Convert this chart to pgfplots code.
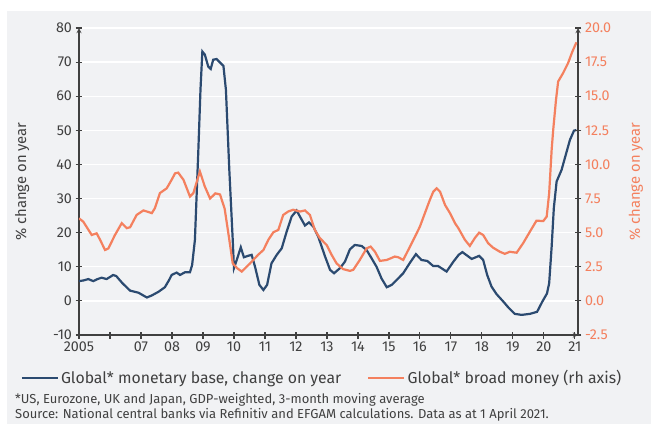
\documentclass[border=0pt]{standalone}
\usepackage{fontspec}
\setmainfont{Fira Sans}
\usepackage{pgfplots}
\pgfplotsset{compat=1.18}
\definecolor{navy}{HTML}{2B4A70}
\definecolor{coral}{HTML}{F4805E}
\definecolor{panel}{HTML}{F1F2F4}
\definecolor{txt}{HTML}{404040}

\pgfplotstableread{
x y
2005.00 5.8
2005.15 6.0
2005.30 6.4
2005.46 5.8
2005.60 6.4
2005.73 6.8
2005.89 6.4
2006.00 7.0
2006.10 7.6
2006.20 7.3
2006.40 5.2
2006.65 3.0
2006.92 2.4
2007.19 1.0
2007.35 1.6
2007.57 2.7
2007.77 4.0
2007.90 6.0
2007.99 7.6
2008.15 8.3
2008.26 7.6
2008.42 8.4
2008.58 8.4
2008.65 10.5
2008.74 17.9
2008.85 44.0
2008.92 62.0
2008.98 73.1
2009.06 72.2
2009.17 68.7
2009.25 68.0
2009.33 70.7
2009.44 70.9
2009.57 69.7
2009.66 68.9
2009.74 61.9
2009.85 38.4
2009.96 17.9
2010.00 9.6
2010.09 12.0
2010.22 15.7
2010.32 12.8
2010.45 13.2
2010.57 13.5
2010.68 10.0
2010.82 4.7
2010.95 3.2
2011.07 4.7
2011.21 11.0
2011.38 13.5
2011.54 15.4
2011.70 20.3
2011.86 24.7
2012.02 26.5
2012.13 24.7
2012.29 22.1
2012.42 23.0
2012.56 21.8
2012.72 18.8
2012.94 13.0
2013.10 9.1
2013.23 8.1
2013.42 9.6
2013.58 11.5
2013.74 15.1
2013.90 16.4
2014.12 16.1
2014.28 14.9
2014.44 12.5
2014.60 10.0
2014.76 6.6
2014.93 4.0
2015.09 4.7
2015.30 6.6
2015.46 8.1
2015.68 11.2
2015.87 13.7
2016.05 12.0
2016.24 11.7
2016.43 10.2
2016.59 10.2
2016.86 8.6
2017.08 11.5
2017.25 13.5
2017.37 14.3
2017.67 12.3
2017.91 13.2
2018.04 12.0
2018.17 7.6
2018.31 4.2
2018.47 2.0
2018.69 -0.2
2018.85 -1.9
2019.06 -3.8
2019.28 -4.1
2019.55 -3.8
2019.78 -3.2
2019.95 -0.2
2020.10 2.2
2020.17 5.2
2020.25 15.9
2020.32 27.2
2020.41 35.0
2020.57 38.4
2020.68 42.0
2020.84 47.2
2020.97 49.9
2021.05 50.1
}\monetarybase

\pgfplotstableread{
x y
2005.00 6.05
2005.14 5.80
2005.41 4.83
2005.57 4.95
2005.68 4.48
2005.84 3.73
2005.95 3.85
2006.16 4.83
2006.38 5.70
2006.54 5.33
2006.65 5.40
2006.86 6.30
2007.08 6.63
2007.35 6.43
2007.45 6.80
2007.61 7.90
2007.83 8.25
2007.99 8.88
2008.10 9.35
2008.20 9.40
2008.37 8.88
2008.58 7.65
2008.69 7.90
2008.90 9.48
2009.06 8.38
2009.23 7.50
2009.40 7.88
2009.55 7.80
2009.70 6.75
2009.85 4.48
2009.96 2.75
2010.10 2.40
2010.25 2.15
2010.52 2.75
2010.78 3.38
2010.95 3.73
2011.11 4.48
2011.27 5.03
2011.43 5.20
2011.59 6.30
2011.75 6.55
2011.91 6.68
2012.13 6.55
2012.29 6.63
2012.45 6.30
2012.61 5.20
2012.77 4.60
2012.99 4.10
2013.15 3.38
2013.31 2.75
2013.52 2.33
2013.74 2.20
2013.85 2.28
2014.06 3.00
2014.28 3.85
2014.41 3.98
2014.55 3.60
2014.71 2.93
2014.93 3.00
2015.19 3.25
2015.30 3.20
2015.46 3.00
2015.68 3.98
2015.84 4.70
2016.00 5.45
2016.16 6.43
2016.32 7.40
2016.43 8.00
2016.54 8.25
2016.65 8.00
2016.81 7.03
2016.97 6.43
2017.13 5.70
2017.24 5.33
2017.45 4.48
2017.61 4.03
2017.77 4.60
2017.91 5.00
2018.04 4.83
2018.20 4.23
2018.36 3.90
2018.58 3.60
2018.74 3.45
2018.90 3.60
2019.12 3.53
2019.33 4.23
2019.55 5.08
2019.76 5.88
2019.98 5.85
2020.09 6.18
2020.17 7.90
2020.25 11.08
2020.30 12.53
2020.39 14.73
2020.46 16.08
2020.62 16.70
2020.78 17.43
2020.92 18.28
2021.05 18.95
}\broadmoney

\begin{document}
\begin{tikzpicture}
\path[use as bounding box] (-79pt,-89pt) rectangle (572pt,335pt);
\fill[panel] (-72pt,-89pt) rectangle (572pt,324pt);

\pgfplotsset{
  base/.style={
    width=499pt, height=307pt, scale only axis,
    xmin=2005, xmax=2021.1,
    tick align=outside, major tick length=7pt,
    every tick/.style={line width=1.2pt, draw=txt},
    axis line style={-, line width=1.3pt, draw=txt},
    tick label style={font=\fontsize{14.3}{16}\selectfont, text=txt},
    /pgf/number format/assume math mode=true,
  }
}

\begin{axis}[base,
  ymin=-10, ymax=80, ytick={-10,0,...,80},
  axis x line=bottom, axis y line=left,
  xtick={2005,...,2021},
  xticklabels={2005,,07,08,09,10,11,12,13,14,15,16,17,18,19,20,21},
  ymajorgrids, major grid style={white, line width=1.3pt},
  ylabel={\% change on year},
  ylabel style={at={(axis description cs:-0.114,0.5)}, anchor=center, rotate=0,
    text=txt, font=\fontsize{14.8}{16}\selectfont},
  legend style={at={(axis description cs:-0.123,-0.140)}, anchor=west,
    draw=none, fill=none, legend columns=2, text=txt,
    font=\fontsize{15.8}{17}\selectfont,
    /tikz/every even column/.append style={column sep=24pt}},
  legend image code/.code={\draw[#1] (0pt,0pt) -- (36pt,0pt);},
]
\addplot[navy, line width=2.2pt] table[x=x,y=y] {\monetarybase};
\addlegendentry{Global* monetary base, change on year}
\addlegendimage{coral, line width=2.2pt}
\addlegendentry{Global* broad money (rh axis)}
\end{axis}

\begin{axis}[base,
  ymin=-2.5, ymax=20, ytick={-2.5,0,...,20},
  axis y line=right, axis x line=none,
  yticklabel style={text=coral, /pgf/number format/fixed,
    /pgf/number format/fixed zerofill, /pgf/number format/precision=1},
  ylabel={\% change on year},
  ylabel style={at={(axis description cs:1.116,0.5)}, anchor=center, rotate=0,
    text=coral, font=\fontsize{14.8}{16}\selectfont},
]
\addplot[coral, line width=2.2pt] table[x=x,y=y] {\broadmoney};
\end{axis}

\node[anchor=west, font=\fontsize{13}{15}\selectfont, text=txt, inner sep=0pt] at (-64pt,-65pt)
  {*US, Eurozone, UK and Japan, GDP-weighted, 3-month moving average};
\node[anchor=west, font=\fontsize{13}{15}\selectfont, text=txt, inner sep=0pt] at (-64pt,-80pt)
  {Source: National central banks via Refinitiv and EFGAM calculations. Data as at 1 April 2021.};
\end{tikzpicture}
\end{document}
